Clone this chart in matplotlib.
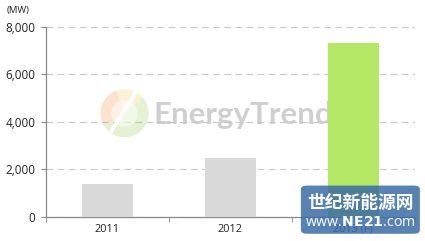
import matplotlib
matplotlib.use("Agg")
import matplotlib.pyplot as plt
from matplotlib.patches import Wedge, FancyBboxPatch

years = ["2011", "2012", "2013 (F)"]
capacity_mw = [1380, 2480, 7320]
bar_colors = ["#d9d9d9", "#d9d9d9", "#b5e865"]
yticks = [0, 2000, 4000, 6000, 8000]

plt.rcParams["font.family"] = ["Open Sans", "DejaVu Sans"]

fig = plt.figure(figsize=(4.25, 2.41), dpi=100)
ax = fig.add_axes([0.108, 0.101, 0.868, 0.787])

x = range(len(years))
ax.bar(x, capacity_mw, width=0.41, color=bar_colors, zorder=3)

ax.set_xlim(-0.5, 2.5)
ax.set_ylim(0, 8000)
ax.set_yticks(yticks)
ax.set_yticklabels([f"{v:,}" for v in yticks], fontsize=8.5, color="#222222")
ax.set_xticks(list(x))
ax.set_xticklabels(years, fontsize=7.8, color="#222222")
ax.tick_params(axis="x", length=0, pad=5)
ax.set_xticks([-0.5, 0.5, 1.5, 2.5], minor=True)
ax.tick_params(axis="x", which="minor", length=3.5, color="#888888")
ax.tick_params(axis="y", length=3.5, color="#888888", pad=4)

ax.grid(axis="y", linestyle=(0, (6, 4)), color="#c8c8c8", linewidth=0.8, zorder=0)
for s in ["top", "right"]:
    ax.spines[s].set_visible(False)
for s in ["left", "bottom"]:
    ax.spines[s].set_color("#888888")
    ax.spines[s].set_linewidth(0.9)

fig.text(0.016, 0.955, "(MW)", fontsize=6.8, color="#222222", va="center")

# EnergyTrend watermark (behind the bars)
logo = fig.add_axes([0.233, 0.43, 0.12, 0.2])
logo.set_aspect("equal")
logo.set_xlim(-1, 1)
logo.set_ylim(-1, 1)
logo.axis("off")
logo.add_patch(Wedge((0, 0), 1, 110, 210, color="#f4a261", alpha=0.3, lw=0))
logo.add_patch(Wedge((0, 0), 1, 40, 110, color="#f2d27a", alpha=0.3, lw=0))
logo.add_patch(Wedge((0, 0), 1, 210, 40, color="#a8d46f", alpha=0.3, lw=0))
logo.add_patch(Wedge((0, 0), 0.55, 0, 360, color="white", alpha=0.5, lw=0))
logo.plot([-0.55, 0.45], [-0.75, 0.85], color="white", lw=2.5)
ax.text(0.36, 0.523, "EnergyTrend", fontsize=22.5, fontweight="bold",
        color="#c4c4c4", alpha=0.8, va="center", family="Lato",
        transform=fig.transFigure, zorder=2)

# NE21 badge
fig.patches.append(FancyBboxPatch((0.708, 0.03), 0.28, 0.20,
                                  boxstyle="round,pad=0,rounding_size=0.015",
                                  transform=fig.transFigure, facecolor="#3a6ca6",
                                  edgecolor="none", alpha=0.85, zorder=5))
fig.text(0.848, 0.158, "世纪新能源网", fontsize=12.8, fontweight="bold", color="white",
         ha="center", va="center", family=["Noto Sans CJK SC", "DejaVu Sans"], zorder=6)
fig.text(0.848, 0.075, r"www.$\mathbf{NE21}$.com", fontsize=10.2, color="white",
         ha="center", va="center", zorder=6)

fig.savefig("out.png", dpi=100)
